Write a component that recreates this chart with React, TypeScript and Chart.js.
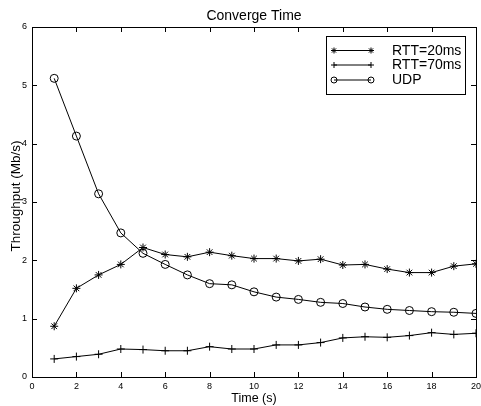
import React, { useEffect, useRef } from 'react';
import { Chart, registerables } from 'chart.js';

Chart.register(...registerables);

const times = [1, 2, 3, 4, 5, 6, 7, 8, 9, 10, 11, 12, 13, 14, 15, 16, 17, 18, 19, 20];
const rtt20 = [0.87, 1.52, 1.75, 1.93, 2.22, 2.1, 2.06, 2.14, 2.08, 2.03, 2.03, 1.99, 2.02, 1.92, 1.93, 1.85, 1.79, 1.79, 1.9, 1.94];
const rtt70 = [0.31, 0.35, 0.39, 0.48, 0.47, 0.45, 0.45, 0.52, 0.48, 0.48, 0.55, 0.55, 0.59, 0.67, 0.69, 0.68, 0.71, 0.76, 0.73, 0.75];
const udp = [5.12, 4.13, 3.14, 2.47, 2.12, 1.93, 1.75, 1.6, 1.58, 1.46, 1.37, 1.33, 1.28, 1.26, 1.2, 1.16, 1.14, 1.12, 1.11, 1.09];
const xTicks = [0, 2, 4, 6, 8, 10, 12, 14, 16, 18, 20];
const yTicks = [0, 1, 2, 3, 4, 5, 6];
const seriesLabels = ['RTT=20ms', 'RTT=70ms', 'UDP'];
const markerStyles = ['star', 'cross', 'circle'];
const chartTitle = 'Converge Time';
const xTitle = 'Time (s)';
const yTitle = 'Throughput (Mb/s)';

const FONT = '"Liberation Sans", Arial, Helvetica, sans-serif';

function drawMarker(ctx: CanvasRenderingContext2D, style: string, x: number, y: number, r: number) {
  ctx.beginPath();
  if (style === 'circle') {
    ctx.arc(x, y, r, 0, Math.PI * 2);
  } else if (style === 'cross') {
    ctx.moveTo(x - r, y);
    ctx.lineTo(x + r, y);
    ctx.moveTo(x, y - r);
    ctx.lineTo(x, y + r);
  } else {
    const d = r * 0.7071;
    ctx.moveTo(x - r, y);
    ctx.lineTo(x + r, y);
    ctx.moveTo(x, y - r);
    ctx.lineTo(x, y + r);
    ctx.moveTo(x - d, y - d);
    ctx.lineTo(x + d, y + d);
    ctx.moveTo(x - d, y + d);
    ctx.lineTo(x + d, y - d);
  }
  ctx.stroke();
}

const framePlugin = {
  id: 'matlabFrame',
  afterDraw(chart: any) {
    const ctx: CanvasRenderingContext2D = chart.ctx;
    const { left, right, top, bottom } = chart.chartArea;
    const xs = chart.scales.x;
    const ys = chart.scales.y;
    ctx.save();
    ctx.strokeStyle = '#000';
    ctx.lineWidth = 1;
    ctx.strokeRect(Math.round(left) + 0.5, Math.round(top) + 0.5, Math.round(right - left), Math.round(bottom - top));
    const tl = 5;
    ctx.beginPath();
    xTicks.forEach((v) => {
      const px = Math.round(xs.getPixelForValue(v)) + 0.5;
      ctx.moveTo(px, bottom);
      ctx.lineTo(px, bottom - tl);
      ctx.moveTo(px, top);
      ctx.lineTo(px, top + tl);
    });
    yTicks.forEach((v) => {
      const py = Math.round(ys.getPixelForValue(v)) + 0.5;
      ctx.moveTo(left, py);
      ctx.lineTo(left + tl, py);
      ctx.moveTo(right, py);
      ctx.lineTo(right - tl, py);
    });
    ctx.stroke();

    // titles
    ctx.fillStyle = '#000';
    ctx.font = `14px ${FONT}`;
    ctx.textAlign = 'center';
    ctx.textBaseline = 'alphabetic';
    ctx.fillText(chartTitle, (left + right) / 2, 20);
    ctx.font = `12.5px ${FONT}`;
    ctx.fillText(xTitle, (left + right) / 2, 402);
    ctx.save();
    ctx.font = `13.5px ${FONT}`;
    ctx.translate(19.5, 196);
    ctx.rotate(-Math.PI / 2);
    ctx.fillText(yTitle, 0, 0);
    ctx.restore();

    // legend
    const lx = 326.5, ly = 36.5, lw = 139, lh = 58;
    ctx.fillStyle = '#fff';
    ctx.fillRect(lx, ly, lw, lh);
    ctx.strokeRect(lx, ly, lw, lh);
    const rows = [50.5, 65, 80];
    ctx.font = `14px ${FONT}`;
    ctx.textAlign = 'left';
    ctx.textBaseline = 'middle';
    seriesLabels.forEach((lab, i) => {
      const y = rows[i];
      ctx.beginPath();
      ctx.moveTo(334, y);
      ctx.lineTo(371, y);
      ctx.stroke();
      drawMarker(ctx, markerStyles[i], 334, y, 3);
      drawMarker(ctx, markerStyles[i], 371, y, 3);
      ctx.fillStyle = '#000';
      ctx.fillText(lab, 392, y + 0.5);
    });
    ctx.restore();
  },
};

export default function App() {
  const ref = useRef<HTMLCanvasElement | null>(null);
  useEffect(() => {
    document.body.style.margin = '0';
    const canvas = ref.current;
    if (!canvas) return;
    const mk = (vals: number[], i: number) => ({
      label: seriesLabels[i],
      data: times.map((t, k) => ({ x: t, y: vals[k] })),
      borderColor: '#000',
      backgroundColor: 'rgba(0,0,0,0)',
      borderWidth: 1,
      pointStyle: markerStyles[i] as any,
      pointRadius: 4,
      pointBorderColor: '#000',
      pointBackgroundColor: 'rgba(0,0,0,0)',
      pointBorderWidth: 1,
      tension: 0,
      fill: false,
    });
    const chart = new Chart(canvas, {
      type: 'line',
      data: {
        datasets: [mk(rtt20, 0), mk(rtt70, 1), mk(udp, 2)],
      },
      options: {
        animation: false,
        responsive: false,
        devicePixelRatio: 1,
        layout: { padding: { top: 27, right: 0, left: 0, bottom: 0 } },
        plugins: { legend: { display: false }, title: { display: false }, tooltip: { enabled: false } },
        scales: {
          x: {
            type: 'linear',
            min: 0,
            max: 20,
            afterFit: (s: any) => { s.height = 29; s.paddingRight = 5; s.paddingLeft = 0; },
            afterBuildTicks: (s: any) => { s.ticks = xTicks.map((v) => ({ value: v })); },
            ticks: { font: { size: 9, family: FONT }, color: '#000', padding: 4, maxRotation: 0, autoSkip: false },
            grid: { display: false, drawTicks: false },
            border: { display: false },
          },
          y: {
            type: 'linear',
            min: 0,
            max: 6,
            afterFit: (s: any) => { s.width = 32; s.paddingTop = 0; s.paddingBottom = 0; },
            afterBuildTicks: (s: any) => { s.ticks = yTicks.map((v) => ({ value: v })); },
            ticks: { font: { size: 9, family: FONT }, color: '#000', padding: 5, autoSkip: false },
            grid: { display: false, drawTicks: false },
            border: { display: false },
          },
        },
      },
      plugins: [framePlugin],
    });
    return () => chart.destroy();
  }, []);
  return (
    <div style={{ position: 'absolute', left: 0, top: 0, width: 481, height: 406, background: '#fff' }}>
      <canvas ref={ref} width={481} height={406} style={{ display: 'block', width: 481, height: 406 }} />
    </div>
  );
}
